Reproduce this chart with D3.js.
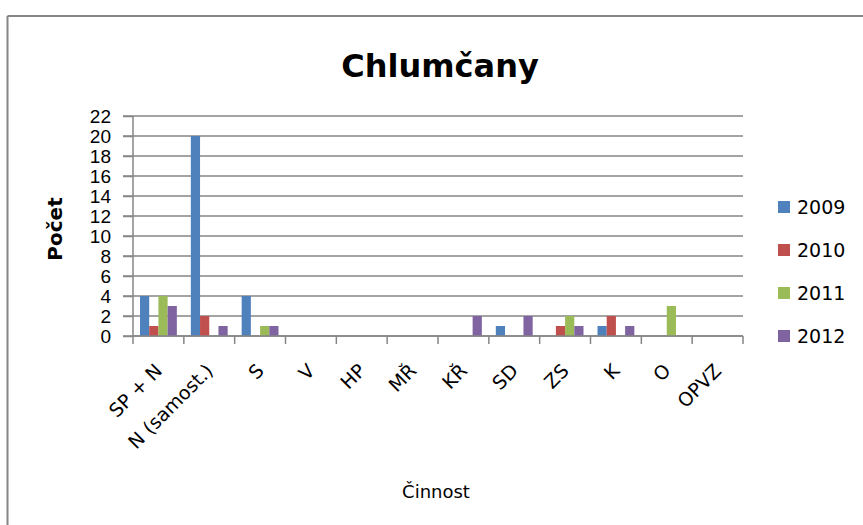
<!DOCTYPE html>
<html>
<head>
<meta charset="utf-8">
<script src="https://cdn.jsdelivr.net/npm/d3@7"></script>
<style>
  body { margin:0; background:#fff; }
  svg { display:block; font-family:"DejaVu Sans", sans-serif; }
  .grid line { stroke:#868686; stroke-width:1.5; }
  .axis path, .axis line { stroke:#868686; stroke-width:1.5; }
  .axis text { fill:#000; }
</style>
</head>
<body>
<script>
var categories = ["SP + N","N (samost.)","S","V","HP","MŘ","KŘ","SD","ZS","K","O","OPVZ"];
var years = ["2009","2010","2011","2012"];
var v2009 = [4,20,4,0,0,0,0,1,0,1,0,0];
var v2010 = [1,2,0,0,0,0,0,0,1,2,0,0];
var v2011 = [4,0,1,0,0,0,0,0,2,0,3,0];
var v2012 = [3,1,1,0,0,0,2,2,1,1,0,0];
var yTicks = [0,2,4,6,8,10,12,14,16,18,20,22];
var colors = ["#4F81BD","#C0504D","#9BBB59","#8064A2"];

var series = [v2009, v2010, v2011, v2012];
var rows = categories.map(function(c,i){
  return {cat:c, vals: years.map(function(y,j){ return {year:y, value:series[j][i]}; })};
});

var W = 863, H = 525;
var margin = {top:116, left:133, right:120, bottom:189};
var w = W - margin.left - margin.right,
    h = H - margin.top - margin.bottom;

var svg = d3.select("body").append("svg")
    .attr("width", W).attr("height", H);

// outer frame (only top and left edges show)
svg.append("line").attr("x1",7.5).attr("x2",W).attr("y1",16).attr("y2",16)
    .attr("stroke","#868686").attr("stroke-width",2);
svg.append("line").attr("x1",7.5).attr("x2",7.5).attr("y1",16).attr("y2",H)
    .attr("stroke","#868686").attr("stroke-width",2);

var g = svg.append("g").attr("transform","translate(" + margin.left + "," + margin.top + ")");

// scales
var x = d3.scaleBand().domain(categories).range([0,w]).padding(0);
var xIn = d3.scaleBand().domain(years).range([0,x.bandwidth()]).paddingInner(0).paddingOuter(0.76);
var y = d3.scaleLinear().domain([0,22]).range([h,0]);

// gridlines
g.append("g").attr("class","grid")
  .selectAll("line").data(yTicks).enter().append("line")
    .attr("x1",-10).attr("x2",w)
    .attr("y1",function(d){return y(d)}).attr("y2",function(d){return y(d)});

// bars
var groups = g.selectAll(".cat").data(rows).enter().append("g")
    .attr("class","cat")
    .attr("transform",function(d){return "translate(" + x(d.cat) + ",0)"});
groups.selectAll("rect").data(function(d){return d.vals}).enter().append("rect")
    .attr("x",function(d){return xIn(d.year)})
    .attr("width",xIn.bandwidth())
    .attr("y",function(d){return y(d.value)})
    .attr("height",function(d){return h - y(d.value)})
    .attr("fill",function(d,i){return colors[i]});

// y axis
var yAxis = d3.axisLeft(y).tickValues(yTicks).tickSize(10).tickPadding(12);
g.append("g").attr("class","axis")
  .call(yAxis)
  .call(function(s){ s.select(".domain").attr("d","M0,0V" + h); })
  .selectAll("text").style("font-size","19px");

// x axis, ticks on category boundaries
var xg = g.append("g").attr("class","axis").attr("transform","translate(0," + h + ")");
xg.append("line").attr("x1",0).attr("x2",w).attr("y1",0).attr("y2",0);
xg.selectAll(".tk").data(d3.range(categories.length + 1)).enter().append("line")
    .attr("class","tk")
    .attr("x1",function(d){return d * x.step()}).attr("x2",function(d){return d * x.step()})
    .attr("y1",0).attr("y2",8);
xg.selectAll(".lbl").data(categories).enter().append("text")
    .attr("class","lbl")
    .attr("text-anchor","end")
    .attr("transform",function(d){
      return "translate(" + (x(d) + x.bandwidth()/2 + 5) + ",36) rotate(-45)";
    })
    .style("font-size","19px")
    .text(function(d){return d});

// title
svg.append("text").attr("x",440).attr("y",77).attr("text-anchor","middle")
    .style("font-size","32px").style("font-weight","bold").text("Chlumčany");

// axis titles
svg.append("text").attr("transform","translate(62,229) rotate(-90)")
    .attr("text-anchor","middle")
    .style("font-size","20px").style("font-weight","bold").text("Počet");
svg.append("text").attr("x",436).attr("y",498).attr("text-anchor","middle")
    .style("font-size","18px").text("Činnost");

// legend
var leg = svg.selectAll(".leg").data(years).enter().append("g")
    .attr("class","leg")
    .attr("transform",function(d,i){return "translate(778," + (207 + i*43) + ")"});
leg.append("rect").attr("x",0).attr("y",-6).attr("width",12).attr("height",12)
    .attr("fill",function(d,i){return colors[i]});
leg.append("text").attr("x",19).attr("y",7).style("font-size","19px").text(function(d){return d});
</script>
</body>
</html>
